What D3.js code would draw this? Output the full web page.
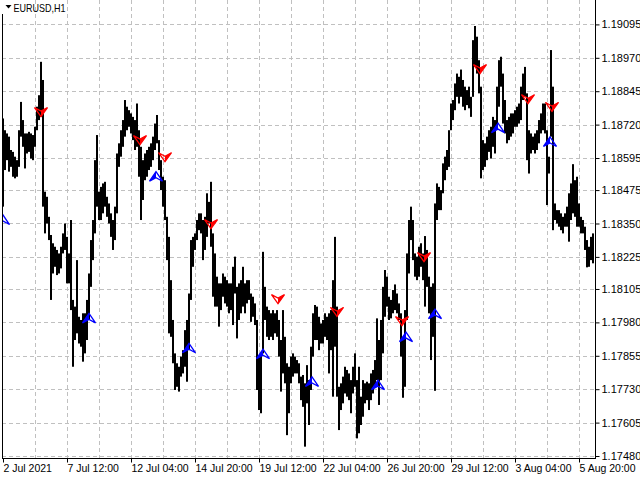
<!DOCTYPE html>
<html><head><meta charset="utf-8">
<script src="https://cdn.jsdelivr.net/npm/d3@7"></script>
<style>
body{margin:0;background:#fff}
svg{display:block}
text{font-family:"Liberation Sans",Arial,sans-serif;fill:#000}
</style>
</head><body>
<svg id="c" width="640" height="480"></svg>
<script>
const symbolLabel = "EURUSD,H1";
// Each drawn bar aggregates 2 hourly bars (high / low)
const barHours = 2;
const highs = [
1.18743,1.18699,1.18687,1.18675,1.18625,1.18618,1.18600,1.18587,1.18699,1.18805,
1.18737,1.18687,1.18687,1.18693,1.18687,1.18681,1.18712,1.18787,1.18830,1.18955,
1.18887,1.18469,1.18450,1.18375,1.18307,1.18276,1.18263,1.18251,1.18238,1.18263,
1.18313,1.18350,1.18300,1.18238,1.18363,1.18064,1.18039,1.18213,1.18001,1.17989,
1.18014,1.18014,1.18064,1.18163,1.18288,1.18363,1.18587,1.18681,1.18469,
1.18487,1.18500,1.18506,1.18450,1.18425,1.18388,1.18363,1.18413,1.18612,1.18650,
1.18699,1.18737,1.18812,1.18787,1.18774,1.18762,1.18749,1.18737,1.18799,1.18699,
1.18637,1.18587,1.18612,1.18625,1.18637,1.18650,1.18675,1.18724,1.18756,1.18662,
1.18587,1.18525,1.18512,1.18375,1.18300,1.18138,1.17989,1.17864,1.17827,1.17814,
1.17852,1.17876,1.17951,1.17989,1.18088,1.18288,1.18300,1.18313,1.18363,1.18388,
1.18388,1.18363,1.18375,1.18463,1.18431,1.18506,1.18313,1.18238,1.18151,1.18126,
1.18126,1.18163,1.18151,1.18138,1.18126,1.18126,1.18188,1.18226,1.18113,1.18126,
1.18138,1.18188,1.18126,1.18138,1.18138,1.18088,1.18076,1.18051,1.17989,1.17852,
1.17864,1.18244,1.18113,1.18039,1.18026,1.18014,1.18026,1.18014,1.18026,1.17989,
1.17914,1.18026,1.17926,1.17827,1.17814,1.17852,1.17864,1.17852,1.17839,1.17827,
1.17777,1.17783,1.17752,1.17820,1.17764,1.17889,1.18014,1.18045,1.18039,1.18001,
1.17976,1.17989,1.18014,1.18001,1.18014,1.18026,1.18138,1.18300,1.18039,1.17739,
1.17752,1.17777,1.17814,1.17802,1.17789,1.17764,1.17814,1.17864,1.17764,1.17814,
1.17702,1.17764,1.17752,1.17758,1.17752,1.17789,1.17802,1.17839,1.17995,1.17914,
1.17989,1.18113,1.18176,1.18151,1.18076,1.18064,1.18101,1.18122,1.18088,1.18051,
1.18014,1.17914,1.18026,1.18238,1.18363,1.18413,1.18363,1.18238,1.18226,1.18263,
1.18276,1.18238,1.18303,1.18251,1.18151,1.18113,1.18126,1.18425,1.18500,1.18487,
1.18475,1.18575,1.18600,1.18625,1.18699,1.18799,1.18812,1.18874,1.18911,1.18899,
1.18926,1.18887,1.18862,1.18849,1.18862,1.18824,1.19036,1.19089,1.19049,1.18961,
1.18862,1.18662,1.18650,1.18675,1.18699,1.18712,1.18749,1.18737,1.18862,1.18961,
1.18974,1.18911,1.18812,1.18737,1.18749,1.18762,1.18762,1.18774,1.18787,1.18799,
1.18862,1.18911,1.18936,1.18837,1.18699,1.18687,1.18675,1.18687,1.18699,1.18737,
1.18762,1.18799,1.18799,1.18699,1.18600,1.18999,1.18862,1.18425,1.18400,1.18400,
1.18388,1.18375,1.18388,1.18413,1.18463,1.18500,1.18572,1.18512,1.18525,1.18425,
1.18375,1.18363,1.18338,1.18288,1.18263,1.18300,1.18313
];
const lows = [
1.18413,1.18550,1.18587,1.18544,1.18562,1.18525,1.18519,1.18525,1.18562,1.18675,
1.18637,1.18556,1.18612,1.18618,1.18593,1.18587,1.18637,1.18699,1.18737,1.18749,
1.18413,1.18313,1.18350,1.18288,1.18064,1.18163,1.18188,1.18157,1.18163,1.18182,
1.18238,1.18251,1.18126,1.18126,1.18026,1.17814,1.17914,1.17939,1.17901,1.17889,
1.17833,1.17864,1.17914,1.17989,1.18113,1.18213,1.18313,1.18413,1.18363,
1.18363,1.18388,1.18413,1.18375,1.18350,1.18300,1.18251,1.18288,1.18388,1.18562,
1.18600,1.18637,1.18675,1.18699,1.18712,1.18687,1.18662,1.18625,1.18637,1.18525,
1.18363,1.18438,1.18512,1.18525,1.18550,1.18562,1.18587,1.18625,1.18650,1.18550,
1.18475,1.18413,1.18363,1.18213,1.17939,1.17926,1.17827,1.17727,1.17739,1.17721,
1.17777,1.17789,1.17814,1.17758,1.17876,1.18064,1.18188,1.18251,1.18288,1.18325,
1.18313,1.18213,1.18251,1.18300,1.18350,1.18263,1.18076,1.18039,1.18039,1.17964,
1.18026,1.18076,1.18051,1.18039,1.18014,1.18026,1.17970,1.18088,1.17920,1.17989,
1.18014,1.18039,1.18014,1.18051,1.18064,1.17982,1.18001,1.17970,1.17727,1.17652,
1.17640,1.17864,1.17989,1.17926,1.17914,1.17926,1.17914,1.17939,1.17926,1.17852,
1.17721,1.17789,1.17752,1.17558,1.17640,1.17752,1.17777,1.17789,1.17789,1.17752,
1.17689,1.17664,1.17515,1.17677,1.17596,1.17727,1.17852,1.17914,1.17914,1.17876,
1.17901,1.17901,1.17926,1.17914,1.17789,1.17876,1.17702,1.17889,1.17702,1.17577,
1.17652,1.17677,1.17714,1.17702,1.17689,1.17640,1.17714,1.17739,1.17546,1.17565,
1.17596,1.17627,1.17677,1.17689,1.17652,1.17689,1.17714,1.17739,1.17764,1.17671,
1.17764,1.17864,1.18001,1.18039,1.17989,1.17995,1.18014,1.18026,1.18014,1.17989,
1.17852,1.17698,1.17739,1.17989,1.18163,1.18288,1.18213,1.18151,1.18138,1.18151,
1.18188,1.18138,1.18039,1.18113,1.18014,1.17839,1.17926,1.17724,1.18363,1.18400,
1.18400,1.18463,1.18512,1.18550,1.18562,1.18699,1.18737,1.18774,1.18824,1.18799,
1.18824,1.18787,1.18774,1.18793,1.18781,1.18749,1.18824,1.18936,1.18911,1.18837,
1.18519,1.18550,1.18562,1.18587,1.18618,1.18593,1.18637,1.18612,1.18712,1.18787,
1.18862,1.18724,1.18687,1.18650,1.18662,1.18675,1.18687,1.18712,1.18712,1.18724,
1.18737,1.18812,1.18824,1.18587,1.18537,1.18612,1.18625,1.18612,1.18625,1.18650,
1.18687,1.18699,1.18687,1.18419,1.18537,1.18675,1.18325,1.18363,1.18350,1.18338,
1.18325,1.18313,1.18338,1.18338,1.18282,1.18363,1.18388,1.18375,1.18338,1.18338,
1.18313,1.18313,1.18251,1.18186,1.18188,1.18213,1.18201
];
const yTickLabels = ["1.19095","1.18970","1.18845","1.18720","1.18595","1.18475","1.18350",
  "1.18225","1.18105","1.17980","1.17855","1.17730","1.17605","1.17480"];
const xTickLabels = ["2 Jul 2021","7 Jul 12:00","12 Jul 04:00","14 Jul 20:00","19 Jul 12:00",
  "22 Jul 04:00","26 Jul 20:00","29 Jul 12:00","3 Aug 04:00","5 Aug 20:00"];
const xTickHours = [0,64,128,192,256,320,384,448,512,576];
const gridHours = [32,64,96,128,160,192,224,256,288,320,352,384,416,448,480,512,544,576];
const sellHours  = [38,137,162,208,275,334,399,421,477,525,549];
const sellPrices = [1.18767,1.18662,1.18598,1.18348,1.18067,1.18019,1.17985,1.18224,1.18928,1.18815,1.18786];
const buyHours   = [0,86,153,186,260,309,375,403,432,495,547];
const buyPrices  = [1.18363,1.17995,1.18525,1.17883,1.17861,1.17757,1.17745,1.17925,1.18011,1.18707,1.18655];

const svg = d3.select("#c");
const plotL = 2, plotR = 595, plotB = 458;
const x = d3.scaleLinear().domain([0, 592]).range([3, 595]);
const y = d3.scaleLinear().domain([1.17480, 1.19095]).range([456, 24.4]);

svg.append("rect").attr("width",640).attr("height",480).attr("fill","#fff");
svg.append("defs").append("clipPath").attr("id","clip")
  .append("rect").attr("x",plotL+1).attr("y",0).attr("width",plotR-plotL-1).attr("height",plotB);

// grid
const grid = svg.append("g").attr("stroke","#c0c0c0").attr("stroke-width",1).attr("stroke-dasharray","4,3");
grid.selectAll("line.v").data(gridHours).join("line")
  .attr("x1",d=>Math.round(x(d))+0.5).attr("x2",d=>Math.round(x(d))+0.5)
  .attr("y1",0).attr("y2",plotB);
grid.selectAll("line.h").data(yTickLabels).join("line")
  .attr("x1",plotL).attr("x2",plotR)
  .attr("y1",d=>Math.round(y(+d))+0.5).attr("y2",d=>Math.round(y(+d))+0.5);

// bars
const plot = svg.append("g").attr("clip-path","url(#clip)");
plot.append("g").selectAll("rect").data(highs).join("rect")
  .attr("x",(d,i)=>x(i*barHours)-1)
  .attr("width",(d,i)=>x((i+1)*barHours)-x(i*barHours))
  .attr("y",d=>y(d))
  .attr("height",(d,i)=>Math.max(1, y(lows[i]) - y(d)))
  .attr("fill","#000");

// arrows
const downOutline = "M-6.5,-4.5 L0,4.5 L6.5,-4.5 L0,-1 Z";
const downFill = "M0,-1 L6.5,-4.5 L0,4.5 Z";
const upOutline = "M-6.5,4.5 L0,-5 L6.5,4.5 L0,1 Z";
const upFill = "M0,1 L-6.5,4.5 L0,-5 Z";
const sells = plot.append("g").selectAll("g").data(sellHours).join("g")
  .attr("transform",(d,i)=>`translate(${x(d)},${y(sellPrices[i])})`);
sells.append("path").attr("d",downFill).attr("fill","#ff0000");
sells.append("path").attr("d",downOutline).attr("fill","none").attr("stroke","#ff0000").attr("stroke-width",1.3);
const buys = plot.append("g").selectAll("g").data(buyHours).join("g")
  .attr("transform",(d,i)=>`translate(${x(d)},${y(buyPrices[i])})`);
buys.append("path").attr("d",upFill).attr("fill","#0000ff");
buys.append("path").attr("d",upOutline).attr("fill","none").attr("stroke","#0000ff").attr("stroke-width",1.3);

// frame
svg.append("line").attr("x1",plotL+0.5).attr("x2",plotL+0.5).attr("y1",14).attr("y2",plotB+0.5).attr("stroke","#000");
svg.append("line").attr("x1",plotL).attr("x2",plotR+1).attr("y1",plotB+0.5).attr("y2",plotB+0.5).attr("stroke","#000");

// right axis
const yAxis = d3.axisRight(y).tickValues(yTickLabels.map(Number))
  .tickFormat((d,i)=>yTickLabels[i]).tickSize(4).tickPadding(2);
const ya = svg.append("g").attr("transform",`translate(${plotR+0.5},0)`).call(yAxis);
ya.select(".domain").attr("d",`M0,0V${plotB+0.5}`).attr("stroke","#000");
ya.selectAll("text").attr("font-size","11px").attr("font-family","Liberation Sans, Arial, sans-serif");

// bottom axis
const xAxis = d3.axisBottom(x).tickValues(xTickHours)
  .tickFormat((d,i)=>xTickLabels[i]).tickSize(4).tickPadding(2);
const xa = svg.append("g").attr("transform",`translate(0,${plotB+0.5})`).call(xAxis);
xa.select(".domain").remove();
xa.selectAll("text").attr("text-anchor","start").attr("x",0)
  .attr("font-size","10.5px").attr("font-family","Liberation Sans, Arial, sans-serif");

// symbol label
svg.append("path").attr("d","M5.5,5 L11.5,5 L8.5,8.5 Z").attr("fill","#000");
svg.append("text").attr("x",13.5).attr("y",12).attr("font-size","10.5px")
  .attr("textLength",52).attr("lengthAdjust","spacingAndGlyphs").text(symbolLabel);
</script>
</body></html>
